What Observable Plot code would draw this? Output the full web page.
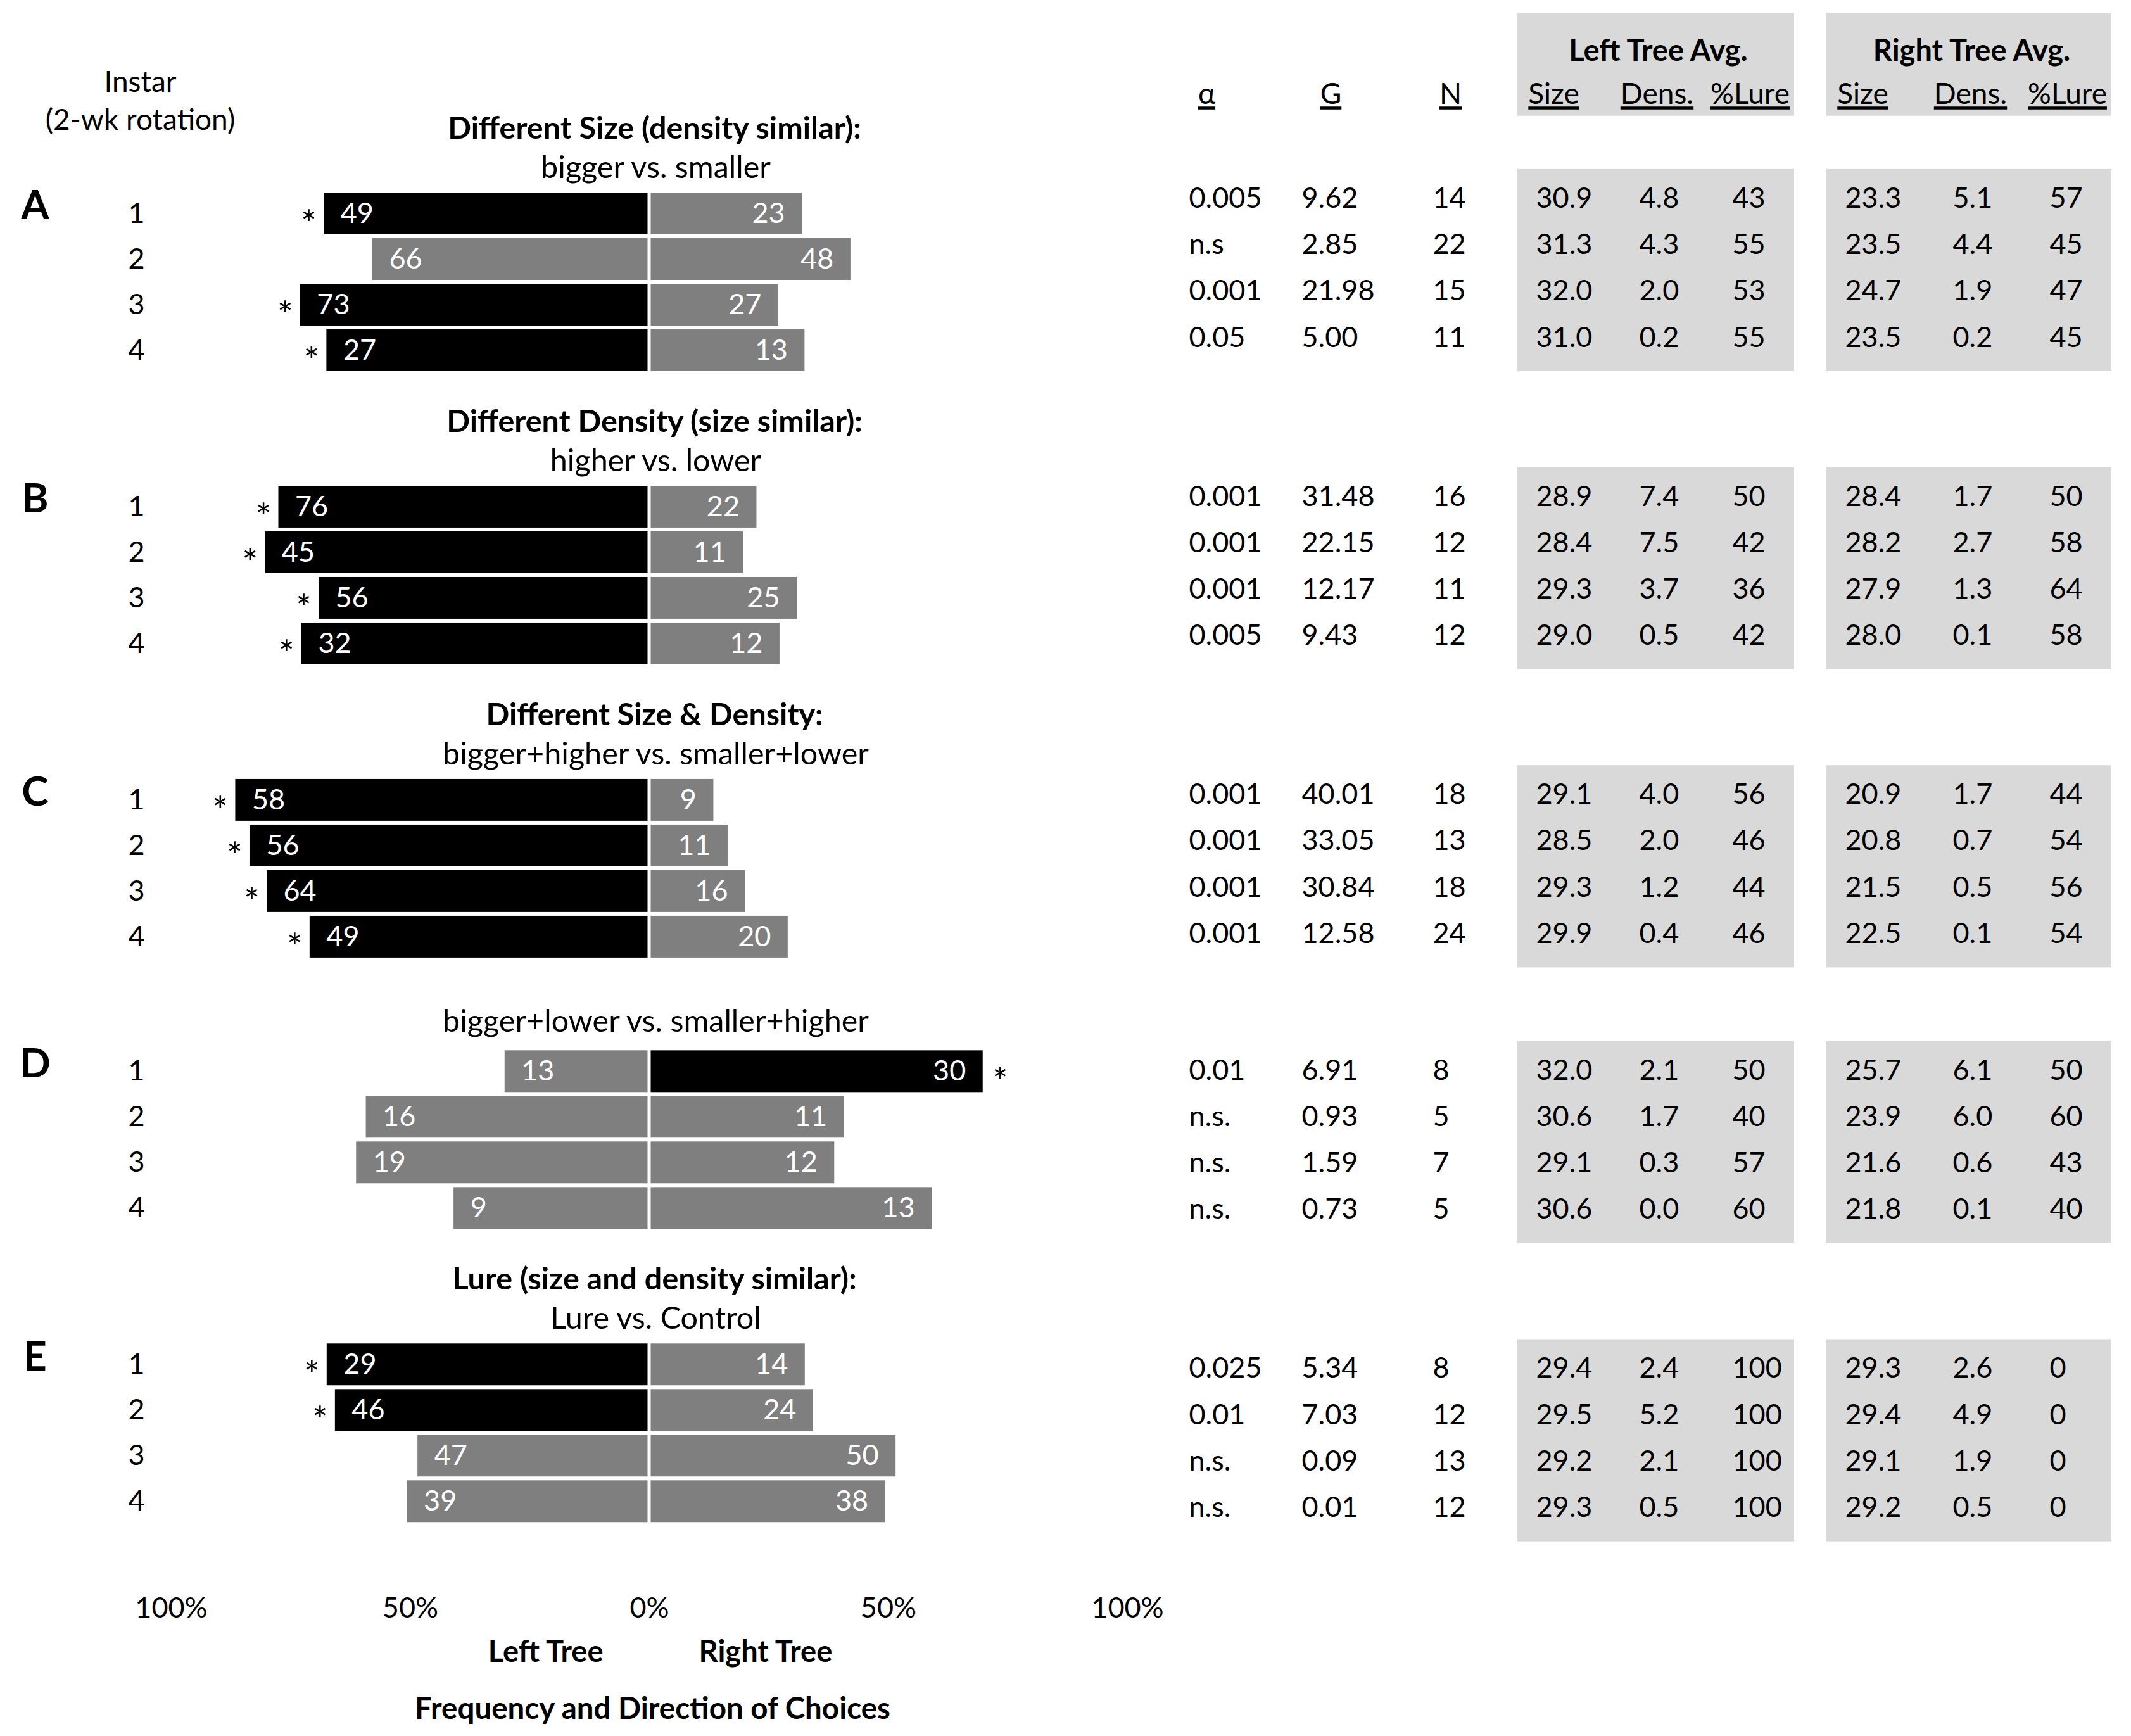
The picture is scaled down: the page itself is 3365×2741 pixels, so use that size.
<!DOCTYPE html>
<html>
<head>
<meta charset="utf-8">
<script src="https://cdn.jsdelivr.net/npm/d3@7"></script>
<script src="https://cdn.jsdelivr.net/npm/@observablehq/plot@0.6"></script>
<style>
  html, body { margin: 0; padding: 0; background: #fff; }
  #fig { position: relative; width: 3365px; height: 2741px; background: #fff; }
  #fig svg { position: absolute; top: 0; }
</style>
</head>
<body>
<div id="fig"></div>
<script>
// ---------------- DATA ----------------
const groups = ["A", "B", "C", "D", "E"];
const titleLines = [
  "Different Size (density similar):",
  "Different Density (size similar):",
  "Different Size & Density:",
  null,
  "Lure (size and density similar):"
];
const subtitleLines = [
  "bigger vs. smaller",
  "higher vs. lower",
  "bigger+higher vs. smaller+lower",
  "bigger+lower vs. smaller+higher",
  "Lure vs. Control"
];
const instars = [1, 2, 3, 4];

// choices made toward the left / right tree (counts shown in the bars)
const leftChoices = [
  [49, 66, 73, 27],
  [76, 45, 56, 32],
  [58, 56, 64, 49],
  [13, 16, 19, 9],
  [29, 46, 47, 39]
];
const rightChoices = [
  [23, 48, 27, 13],
  [22, 11, 25, 12],
  [9, 11, 16, 20],
  [30, 11, 12, 13],
  [14, 24, 50, 38]
];

// statistics table
const alphaLevels = [
  ["0.005", "n.s", "0.001", "0.05"],
  ["0.001", "0.001", "0.001", "0.005"],
  ["0.001", "0.001", "0.001", "0.001"],
  ["0.01", "n.s.", "n.s.", "n.s."],
  ["0.025", "0.01", "n.s.", "n.s."]
];
const gValues = [
  [9.62, 2.85, 21.98, 5.00],
  [31.48, 22.15, 12.17, 9.43],
  [40.01, 33.05, 30.84, 12.58],
  [6.91, 0.93, 1.59, 0.73],
  [5.34, 7.03, 0.09, 0.01]
];
const nValues = [
  [14, 22, 15, 11],
  [16, 12, 11, 12],
  [18, 13, 18, 24],
  [8, 5, 7, 5],
  [8, 12, 13, 12]
];
const leftSize = [
  [30.9, 31.3, 32.0, 31.0],
  [28.9, 28.4, 29.3, 29.0],
  [29.1, 28.5, 29.3, 29.9],
  [32.0, 30.6, 29.1, 30.6],
  [29.4, 29.5, 29.2, 29.3]
];
const leftDens = [
  [4.8, 4.3, 2.0, 0.2],
  [7.4, 7.5, 3.7, 0.5],
  [4.0, 2.0, 1.2, 0.4],
  [2.1, 1.7, 0.3, 0.0],
  [2.4, 5.2, 2.1, 0.5]
];
const leftLure = [
  [43, 55, 53, 55],
  [50, 42, 36, 42],
  [56, 46, 44, 46],
  [50, 40, 57, 60],
  [100, 100, 100, 100]
];
const rightSize = [
  [23.3, 23.5, 24.7, 23.5],
  [28.4, 28.2, 27.9, 28.0],
  [20.9, 20.8, 21.5, 22.5],
  [25.7, 23.9, 21.6, 21.8],
  [29.3, 29.4, 29.1, 29.2]
];
const rightDens = [
  [5.1, 4.4, 1.9, 0.2],
  [1.7, 2.7, 1.3, 0.1],
  [1.7, 0.7, 0.5, 0.1],
  [6.1, 6.0, 0.6, 0.1],
  [2.6, 4.9, 1.9, 0.5]
];
const rightLure = [
  [57, 45, 47, 45],
  [50, 58, 64, 58],
  [44, 54, 56, 54],
  [50, 60, 43, 40],
  [0, 0, 0, 0]
];

const xTicks = [-100, -50, 0, 50, 100];
const instarHeader = ["Instar", "(2-wk rotation)"];
const tableCols = ["alpha", "G", "N", "lSize", "lDens", "lLure", "rSize", "rDens", "rLure"];
const colHeaders = ["α", "G", "N", "Size", "Dens.", "%Lure", "Size", "Dens.", "%Lure"];
const treeNames = ["Left Tree Avg.", "Right Tree Avg."];
const treeCols = [["lSize", "lDens", "lLure"], ["rSize", "rDens", "rLure"]];

// ---------------- LAYOUT ----------------
const FONT = "Lato, 'Open Sans', 'Noto Sans', sans-serif";
const BLACK = "#000000", GRAY = "#7f7f7f", BOX = "#d9d9d9";
const W_LEFT = 1850, W_RIGHT = 1515, H = 2741;
const FRAME_BOTTOM = 2480;
const ROW0 = 337, ROW_PX = 72;        // bar chart rows
const TROW0 = 313, TROW_PX = 73.2;    // table rows
const BAR_HALF = 0.458;

// group starting slot, in row units
const groupStart = [];
{
  let acc = 0;
  groups.forEach((g, gi) => {
    if (gi > 0) {
      const lines = (titleLines[gi] ? 1 : 0) + (subtitleLines[gi] ? 1 : 0);
      acc += 4 + 1.47 + 0.48 * lines;
    }
    groupStart.push(acc);
  });
}

const rows = [];
groups.forEach((g, gi) => instars.forEach((inst, i) => {
  const L = leftChoices[gi][i], R = rightChoices[gi][i];
  const sig = !alphaLevels[gi][i].startsWith("n.s");
  rows.push({
    group: g, instar: inst, pos: groupStart[gi] + i, L, R,
    lShare: 100 * L / (L + R), rShare: 100 * R / (L + R),
    blackSide: sig ? (L > R ? "left" : "right") : null,
    alpha: alphaLevels[gi][i], G: gValues[gi][i], N: nValues[gi][i],
    lSize: leftSize[gi][i], lDens: leftDens[gi][i], lLure: leftLure[gi][i],
    rSize: rightSize[gi][i], rDens: rightDens[gi][i], rLure: rightLure[gi][i]
  });
}));

const titleTexts = [];
groups.forEach((g, gi) => {
  const s = groupStart[gi];
  if (titleLines[gi]) {
    titleTexts.push({text: titleLines[gi], y: s - 1.86, bold: true});
    titleTexts.push({text: subtitleLines[gi], y: s - 1.0, bold: false});
  } else {
    titleTexts.push({text: subtitleLines[gi], y: s - 1.09, bold: false});
  }
});
const groupLabels = groups.map((g, gi) => ({group: g, y: groupStart[gi] - 0.16}));
const instarHeaderRows = instarHeader.map((t, i) => ({text: t, y: [-2.875, -2.04][i]}));

// ---------------- LEFT: diverging bars ----------------
const leftPlot = Plot.plot({
  width: W_LEFT, height: H,
  marginLeft: 270, marginRight: 70, marginTop: 0, marginBottom: H - FRAME_BOTTOM,
  x: {domain: [-100, 100], axis: null},
  y: {domain: [-ROW0 / ROW_PX, (FRAME_BOTTOM - ROW0) / ROW_PX], range: [0, FRAME_BOTTOM], axis: null},
  color: {type: "identity"},
  style: {fontFamily: FONT, fontSize: "45px", color: "#000", background: "transparent", overflow: "visible"},
  marks: [
    Plot.rect(rows, {
      x1: d => -d.lShare, x2: 0, y1: d => d.pos - BAR_HALF, y2: d => d.pos + BAR_HALF,
      fill: d => d.blackSide === "left" ? BLACK : GRAY, insetRight: 2.5
    }),
    Plot.rect(rows, {
      x1: 0, x2: d => d.rShare, y1: d => d.pos - BAR_HALF, y2: d => d.pos + BAR_HALF,
      fill: d => d.blackSide === "right" ? BLACK : GRAY, insetLeft: 2.5
    }),
    Plot.text(rows, {x: d => -d.lShare, y: "pos", text: d => String(d.L), textAnchor: "start", dx: 26, fill: "white", fontSize: 45}),
    Plot.text(rows, {x: d => d.rShare, y: "pos", text: d => String(d.R), textAnchor: "end", dx: -27, fill: "white", fontSize: 45}),
    Plot.text(rows.filter(d => d.blackSide === "left"), {x: d => -d.lShare, y: "pos", text: () => "*", textAnchor: "middle", dx: -24, dy: 18, fontSize: 58}),
    Plot.text(rows.filter(d => d.blackSide === "right"), {x: d => d.rShare, y: "pos", text: () => "*", textAnchor: "middle", dx: 27, dy: 18, fontSize: 58}),
    Plot.text(rows, {y: "pos", text: d => String(d.instar), frameAnchor: "left", dx: -55, textAnchor: "middle", fontSize: 45}),
    Plot.text(groupLabels, {y: "y", text: "group", frameAnchor: "left", dx: -215, textAnchor: "middle", fontWeight: "bold", fontSize: 64}),
    Plot.text(instarHeaderRows, {y: "y", text: "text", frameAnchor: "left", dx: -49, textAnchor: "middle", fontSize: 46}),
    Plot.text(titleTexts.filter(d => d.bold), {y: "y", text: "text", frameAnchor: "middle", dx: 8, fontWeight: "bold", fontSize: 48.5}),
    Plot.text(titleTexts.filter(d => !d.bold), {y: "y", text: "text", frameAnchor: "middle", dx: 10, fontSize: 48.5}),
    Plot.text(xTicks, {x: d => d, text: d => Math.abs(d) + "%", frameAnchor: "bottom", lineAnchor: "middle", dy: 59, fontSize: 45}),
    Plot.text(["Left Tree"], {frameAnchor: "bottom", lineAnchor: "middle", textAnchor: "end", dx: -73, dy: 128, fontWeight: "bold", fontSize: 47}),
    Plot.text(["Right Tree"], {frameAnchor: "bottom", lineAnchor: "middle", textAnchor: "start", dx: 78, dy: 128, fontWeight: "bold", fontSize: 47}),
    Plot.text(["Frequency and Direction of Choices"], {frameAnchor: "bottom", lineAnchor: "middle", dy: 218, dx: 5, fontWeight: "bold", fontSize: 47.5})
  ]
});

// ---------------- RIGHT: statistics table ----------------
const fmt1 = d3.format(".1f"), fmt2 = d3.format(".2f");
const colText = {
  alpha: r => r.alpha, G: r => fmt2(r.G), N: r => String(r.N),
  lSize: r => fmt1(r.lSize), lDens: r => fmt1(r.lDens), lLure: r => String(r.lLure),
  rSize: r => fmt1(r.rSize), rDens: r => fmt1(r.rDens), rLure: r => String(r.rLure)
};
const cells = [];
rows.forEach(r => tableCols.forEach((c, ci) => cells.push({pos: r.pos, col: ci, text: colText[c](r)})));

const trees = treeNames.map((name, ti) => ({
  name,
  first: tableCols.indexOf(treeCols[ti][0]),
  mid: tableCols.indexOf(treeCols[ti][1]),
  last: tableCols.indexOf(treeCols[ti][2])
}));
const dataBoxes = [];
groups.forEach((g, gi) => trees.forEach(t => dataBoxes.push({
  x1: t.first, x2: t.last, y1: groupStart[gi] - 0.63, y2: groupStart[gi] + 3.73
})));
const headerBoxes = trees.map(t => ({x1: t.first, x2: t.last, y1: -4.0, y2: -1.78}));
const headers = colHeaders.map((h, i) => ({text: h, col: i}));

const rightPlot = Plot.plot({
  width: W_RIGHT, height: H,
  marginLeft: 0, marginRight: 0, marginTop: 0, marginBottom: 0,
  x: {type: "linear", domain: d3.range(tableCols.length), range: [27, 205, 412, 575, 738, 885, 1063, 1233, 1386], axis: null},
  y: {domain: [-TROW0 / TROW_PX, (H - TROW0) / TROW_PX], range: [0, H], axis: null},
  style: {fontFamily: FONT, fontSize: "45px", color: "#000", background: "transparent", overflow: "visible"},
  marks: [
    Plot.rect(headerBoxes, {x1: "x1", x2: "x2", y1: "y1", y2: "y2", fill: BOX, insetLeft: -29, insetRight: -98}),
    Plot.rect(dataBoxes, {x1: "x1", x2: "x2", y1: "y1", y2: "y2", fill: BOX, insetLeft: -29, insetRight: -98}),
    Plot.text(trees, {x: "mid", y: () => -3.18, text: "name", dx: 30, fontWeight: "bold", fontSize: 47}),
    Plot.text(headers, {x: "col", y: () => -2.25, text: "text", fontSize: 46, ariaLabel: "col-header"}),
    Plot.text(cells, {x: "col", y: "pos", text: "text", textAnchor: "start", fontSize: 45})
  ]
});

const fig = document.getElementById("fig");
leftPlot.style.left = "0px";
rightPlot.style.left = W_LEFT + "px";
fig.appendChild(leftPlot);
fig.appendChild(rightPlot);

// underline the column headers (text decoration drawn under each header word)
{
  const NS = "http://www.w3.org/2000/svg";
  const headerSet = new Set(colHeaders);
  const headerShift = {"α": 28, "G": 46, "N": 28};
  rightPlot.querySelectorAll("text").forEach(t => {
    if (!headerSet.has(t.textContent)) return;
    const shift = headerShift[t.textContent] ?? 28;
    const prev = t.getAttribute("transform") || "";
    t.setAttribute("transform", `translate(${shift},0) ${prev}`);
    const b = t.getBBox();
    const line = document.createElementNS(NS, "line");
    line.setAttribute("x1", b.x);
    line.setAttribute("x2", b.x + b.width);
    line.setAttribute("y1", b.y + b.height - 3);
    line.setAttribute("y2", b.y + b.height - 3);
    line.setAttribute("stroke", "#000");
    line.setAttribute("stroke-width", 4.5);
    line.setAttribute("transform", t.getAttribute("transform"));
    t.parentNode.appendChild(line);
  });
}
</script>
</body>
</html>
